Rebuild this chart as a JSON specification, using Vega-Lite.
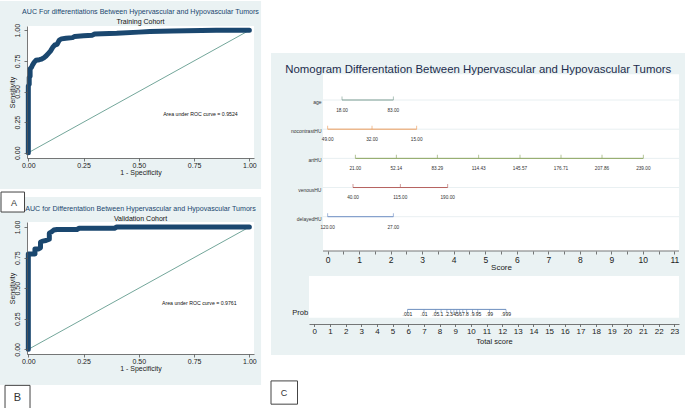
{
  "$schema": "https://vega.github.io/schema/vega-lite/v6.json",
  "background": "white",
  "padding": 0,
  "autosize": {"type": "pad"},
  "spacing": 8,
  "config": {"font": "Liberation Sans", "view": {"stroke": null}, "axis": {"labelOverlap": false, "labelFlush": false, "labelBound": false}},
  "datasets": {
    "train": [{"fpr":0,"tpr":0},{"fpr":0,"tpr":0.3},{"fpr":0,"tpr":0.545},{"fpr":0.004,"tpr":0.56},{"fpr":0.004,"tpr":0.615},{"fpr":0.008,"tpr":0.625},{"fpr":0.008,"tpr":0.685},{"fpr":0.015,"tpr":0.7},{"fpr":0.02,"tpr":0.72},{"fpr":0.027,"tpr":0.74},{"fpr":0.035,"tpr":0.755},{"fpr":0.05,"tpr":0.76},{"fpr":0.06,"tpr":0.765},{"fpr":0.07,"tpr":0.775},{"fpr":0.08,"tpr":0.79},{"fpr":0.09,"tpr":0.81},{"fpr":0.1,"tpr":0.83},{"fpr":0.11,"tpr":0.86},{"fpr":0.12,"tpr":0.88},{"fpr":0.13,"tpr":0.885},{"fpr":0.14,"tpr":0.92},{"fpr":0.15,"tpr":0.93},{"fpr":0.17,"tpr":0.935},{"fpr":0.2,"tpr":0.94},{"fpr":0.21,"tpr":0.95},{"fpr":0.25,"tpr":0.955},{"fpr":0.29,"tpr":0.96},{"fpr":0.3,"tpr":0.97},{"fpr":0.4,"tpr":0.975},{"fpr":0.5,"tpr":0.985},{"fpr":0.55,"tpr":0.99},{"fpr":0.65,"tpr":0.995},{"fpr":0.85,"tpr":1},{"fpr":1,"tpr":1}],
    "valid": [{"fpr":0,"tpr":0},{"fpr":0,"tpr":0.78},{"fpr":0.03,"tpr":0.78},{"fpr":0.03,"tpr":0.82},{"fpr":0.045,"tpr":0.82},{"fpr":0.055,"tpr":0.83},{"fpr":0.055,"tpr":0.875},{"fpr":0.065,"tpr":0.885},{"fpr":0.08,"tpr":0.89},{"fpr":0.095,"tpr":0.9},{"fpr":0.095,"tpr":0.95},{"fpr":0.105,"tpr":0.96},{"fpr":0.115,"tpr":0.975},{"fpr":0.13,"tpr":0.98},{"fpr":0.22,"tpr":0.98},{"fpr":0.23,"tpr":0.99},{"fpr":0.39,"tpr":0.99},{"fpr":0.4,"tpr":1},{"fpr":1,"tpr":1}],
    "diag": [{"fpr":0,"tpr":0},{"fpr":1,"tpr":1}],
    "nom": [
      {"variable":"age","score":0.455,"value":"18.00"},
      {"variable":"age","score":2.084,"value":"83.00"},
      {"variable":"nocontrastHU","score":0,"value":"49.00"},
      {"variable":"nocontrastHU","score":1.407,"value":"32.00"},
      {"variable":"nocontrastHU","score":2.824,"value":"15.00"},
      {"variable":"artHU","score":0.878,"value":"21.00"},
      {"variable":"artHU","score":2.179,"value":"52.14"},
      {"variable":"artHU","score":3.48,"value":"83.29"},
      {"variable":"artHU","score":4.791,"value":"114.43"},
      {"variable":"artHU","score":6.103,"value":"145.57"},
      {"variable":"artHU","score":7.404,"value":"176.71"},
      {"variable":"artHU","score":8.705,"value":"207.86"},
      {"variable":"artHU","score":10.016,"value":"239.00"},
      {"variable":"venousHU","score":0.804,"value":"40.00"},
      {"variable":"venousHU","score":2.306,"value":"115.00"},
      {"variable":"venousHU","score":3.808,"value":"190.00"},
      {"variable":"delayedHU","score":0,"value":"120.00"},
      {"variable":"delayedHU","score":2.084,"value":"27.00"}
    ],
    "prob": [
      {"p":".001","total":5.95},{"p":".01","total":7.004},{"p":".05","total":7.757},{"p":".1","total":8.098},
      {"p":".2","total":8.468},{"p":".3","total":8.714},{"p":".4","total":8.915},{"p":".5","total":9.1},
      {"p":".6","total":9.285},{"p":".7","total":9.486},{"p":".8","total":9.732},{"p":".9","total":10.102},
      {"p":".95","total":10.443},{"p":".99","total":11.196},{"p":".999","total":12.25}
    ]
  },
  "hconcat": [
    {
      "spacing": 1,
      "vconcat": [
        {
          "width": 227,
          "height": 132,
          "title": {"text": "AUC For differentiations Between Hypervascular and Hypovascular Tumors", "subtitle": "Training Cohort", "frame": "group", "anchor": "middle", "offset": -23.8, "fontSize": 7.1, "fontWeight": "normal", "color": "#1a476f", "subtitleFontSize": 7, "subtitleColor": "#111", "subtitlePadding": 2.3},
          "layer": [
            {"data": {"values": [{}]}, "mark": {"type": "rect", "fill": "#eaf2f3"},
             "encoding": {"x": {"datum": -0.128, "scale": {"domain": [-0.006, 1.021], "nice": false, "zero": false}}, "x2": {"datum": 1.053},
                          "y": {"datum": 1.2394, "scale": {"domain": [-0.043, 1.035], "nice": false, "zero": false}}, "y2": {"datum": -0.2966}}},
            {"data": {"values": [{}]}, "mark": {"type": "rect", "fill": "white"},
             "encoding": {"x": {"datum": -0.006, "scale": {"domain": [-0.006, 1.021], "nice": false, "zero": false}}, "x2": {"datum": 1.021},
                          "y": {"datum": 1.035, "scale": {"domain": [-0.043, 1.035], "nice": false, "zero": false}}, "y2": {"datum": -0.043}}},
            {"data": {"name": "diag"}, "mark": {"type": "line", "color": "#4f8f80", "strokeWidth": 0.8},
             "encoding": {"x": {"field": "fpr", "type": "quantitative", "scale": {"domain": [-0.006, 1.021], "nice": false, "zero": false}},
                          "y": {"field": "tpr", "type": "quantitative", "scale": {"domain": [-0.043, 1.035], "nice": false, "zero": false}}}},
            {"data": {"name": "train"}, "mark": {"type": "line", "color": "#1a476f", "strokeWidth": 5, "strokeJoin": "round", "strokeCap": "round"},
             "encoding": {
               "x": {"field": "fpr", "type": "quantitative", "scale": {"domain": [-0.006, 1.021], "nice": false, "zero": false},
                     "axis": {"values": [0, 0.25, 0.5, 0.75, 1], "tickCount": 100, "format": ".2f", "title": "1 - Specificity", "grid": false, "domainColor": "#555", "domainWidth": 0.8, "tickColor": "#555", "tickWidth": 0.8, "tickSize": 3, "labelFontSize": 7, "labelColor": "#222", "labelPadding": 0, "labelFlush": false, "labelOverlap": false, "titleFontSize": 7, "titleFontWeight": "normal", "titleColor": "#222", "titlePadding": 0, "zindex": 1}},
               "y": {"field": "tpr", "type": "quantitative", "scale": {"domain": [-0.043, 1.035], "nice": false, "zero": false},
                     "axis": {"values": [0, 0.25, 0.5, 0.75, 1], "tickCount": 100, "format": ".2f", "title": "Sensitivity", "grid": false, "domainColor": "#555", "domainWidth": 0.8, "tickColor": "#555", "tickWidth": 0.8, "tickSize": 3, "labelFontSize": 7, "labelColor": "#222", "labelAngle": -90, "labelAlign": "center", "labelBaseline": "bottom", "labelPadding": 3.5, "labelFlush": false, "labelOverlap": false, "titleFontSize": 7, "titleFontWeight": "normal", "titleColor": "#222", "titlePadding": -2, "zindex": 1}},
               "order": {"value": null}
             }},
            {"data": {"values": [{"label": "Area under ROC curve = 0.9524"}]}, "mark": {"type": "text", "align": "left", "baseline": "middle", "fontSize": 5.2, "fill": "#111"},
             "encoding": {"x": {"datum": 0.61, "scale": {"domain": [-0.006, 1.021], "nice": false, "zero": false}}, "y": {"datum": 0.316, "scale": {"domain": [-0.043, 1.035], "nice": false, "zero": false}}, "text": {"field": "label"}}}
          ]
        },
        {
          "width": 227,
          "height": 132,
          "title": {"text": "AUC for Differentation Between Hypervascular and Hypovascular Tumors", "subtitle": "Validation Cohort", "frame": "group", "anchor": "middle", "offset": -30.1, "fontSize": 7.1, "fontWeight": "normal", "color": "#1a476f", "subtitleFontSize": 7, "subtitleColor": "#111", "subtitlePadding": 2.3},
          "layer": [
            {"data": {"values": [{}]}, "mark": {"type": "rect", "fill": "#eaf2f3"},
             "encoding": {"x": {"datum": -0.128, "scale": {"domain": [-0.006, 1.021], "nice": false, "zero": false}}, "x2": {"datum": 1.053},
                          "y": {"datum": 1.2453, "scale": {"domain": [-0.038, 1.041], "nice": false, "zero": false}}, "y2": {"datum": -0.2919}}},
            {"data": {"values": [{}]}, "mark": {"type": "rect", "fill": "white"},
             "encoding": {"x": {"datum": -0.006, "scale": {"domain": [-0.006, 1.021], "nice": false, "zero": false}}, "x2": {"datum": 1.021},
                          "y": {"datum": 1.041, "scale": {"domain": [-0.038, 1.041], "nice": false, "zero": false}}, "y2": {"datum": -0.038}}},
            {"data": {"values": [{}]}, "mark": {"type": "rect", "fill": "white", "stroke": "#444", "strokeWidth": 1},
             "encoding": {"x": {"datum": -0.1235, "scale": {"domain": [-0.006, 1.021], "nice": false, "zero": false}}, "x2": {"datum": -0.0172},
                          "y": {"datum": 1.286, "scale": {"domain": [-0.038, 1.041], "nice": false, "zero": false}}, "y2": {"datum": 1.1226}}},
            {"data": {"values": [{}]}, "mark": {"type": "text", "fontSize": 9, "fill": "#333", "baseline": "middle"},
             "encoding": {"x": {"datum": -0.0647, "scale": {"domain": [-0.006, 1.021], "nice": false, "zero": false}},
                          "y": {"datum": 1.2, "scale": {"domain": [-0.038, 1.041], "nice": false, "zero": false}}, "text": {"value": "A"}}},
            {"data": {"values": [{}]}, "mark": {"type": "rect", "fill": "white", "stroke": "#444", "strokeWidth": 1},
             "encoding": {"x": {"datum": -0.1054, "scale": {"domain": [-0.006, 1.021], "nice": false, "zero": false}}, "x2": {"datum": 0.0077},
                          "y": {"datum": -0.2944, "scale": {"domain": [-0.038, 1.041], "nice": false, "zero": false}}, "y2": {"datum": -0.4922}}},
            {"data": {"values": [{}]}, "mark": {"type": "text", "fontSize": 11, "fill": "#333", "baseline": "middle"},
             "encoding": {"x": {"datum": -0.0489, "scale": {"domain": [-0.006, 1.021], "nice": false, "zero": false}},
                          "y": {"datum": -0.394, "scale": {"domain": [-0.038, 1.041], "nice": false, "zero": false}}, "text": {"value": "B"}}},
            {"data": {"name": "diag"}, "mark": {"type": "line", "color": "#4f8f80", "strokeWidth": 0.8},
             "encoding": {"x": {"field": "fpr", "type": "quantitative", "scale": {"domain": [-0.006, 1.021], "nice": false, "zero": false}},
                          "y": {"field": "tpr", "type": "quantitative", "scale": {"domain": [-0.038, 1.041], "nice": false, "zero": false}}}},
            {"data": {"name": "valid"}, "mark": {"type": "line", "color": "#1a476f", "strokeWidth": 5, "strokeJoin": "round", "strokeCap": "round"},
             "encoding": {
               "x": {"field": "fpr", "type": "quantitative", "scale": {"domain": [-0.006, 1.021], "nice": false, "zero": false},
                     "axis": {"values": [0, 0.25, 0.5, 0.75, 1], "tickCount": 100, "format": ".2f", "title": "1 - Specificity", "grid": false, "domainColor": "#555", "domainWidth": 0.8, "tickColor": "#555", "tickWidth": 0.8, "tickSize": 3, "labelFontSize": 7, "labelColor": "#222", "labelPadding": 0, "labelFlush": false, "labelOverlap": false, "titleFontSize": 7, "titleFontWeight": "normal", "titleColor": "#222", "titlePadding": 0, "zindex": 1}},
               "y": {"field": "tpr", "type": "quantitative", "scale": {"domain": [-0.038, 1.041], "nice": false, "zero": false},
                     "axis": {"values": [0, 0.25, 0.5, 0.75, 1], "tickCount": 100, "format": ".2f", "title": "Sensitivity", "grid": false, "domainColor": "#555", "domainWidth": 0.8, "tickColor": "#555", "tickWidth": 0.8, "tickSize": 3, "labelFontSize": 7, "labelColor": "#222", "labelAngle": -90, "labelAlign": "center", "labelBaseline": "bottom", "labelPadding": 3.5, "labelFlush": false, "labelOverlap": false, "titleFontSize": 7, "titleFontWeight": "normal", "titleColor": "#222", "titlePadding": -2, "zindex": 1}},
               "order": {"value": null}
             }},
            {"data": {"values": [{"label": "Area under ROC curve = 0.9761"}]}, "mark": {"type": "text", "align": "left", "baseline": "middle", "fontSize": 5.2, "fill": "#111"},
             "encoding": {"x": {"datum": 0.605, "scale": {"domain": [-0.006, 1.021], "nice": false, "zero": false}}, "y": {"datum": 0.379, "scale": {"domain": [-0.038, 1.041], "nice": false, "zero": false}}, "text": {"field": "label"}}}
          ]
        }
      ]
    },
    {
      "width": 370,
      "height": 298,
      "title": {"text": "Nomogram Differentation Between Hypervascular and Hypovascular Tumors", "frame": "bounds", "anchor": "middle", "offset": -49, "fontSize": 11.4, "fontWeight": "normal", "color": "#1c2c4c"},
      "layer": [
        {
          "layer": [
            {
              "data": {"values": [{}]},
              "layer": [
                {"mark": {"type": "rect", "fill": "#eaf2f3"},
                 "encoding": {"x": {"datum": -1.798, "scale": {"domain": [-0.5924, 11.148], "nice": false, "zero": false}}, "x2": {"datum": 11.37},
                              "y": {"datum": 0.9094, "scale": {"domain": [0, 1], "nice": false, "zero": false}, "axis": null}, "y2": {"datum": -0.104}}},
                {"mark": {"type": "rect", "fill": "white"},
                 "encoding": {"x": {"datum": -0.148, "scale": {"domain": [-0.5924, 11.148], "nice": false, "zero": false}}, "x2": {"datum": 11.148},
                              "y": {"datum": 0.8379, "scale": {"domain": [0, 1], "nice": false, "zero": false}, "axis": null}, "y2": {"datum": 0.245}}},
                {"mark": {"type": "rect", "fill": "white"},
                 "encoding": {"x": {"datum": -0.5924, "scale": {"domain": [-0.5924, 11.148], "nice": false, "zero": false}}, "x2": {"datum": 11.148},
                              "y": {"datum": 0.161, "scale": {"domain": [0, 1], "nice": false, "zero": false}, "axis": null}, "y2": {"datum": 0.0211}}},
                {"mark": {"type": "rule", "stroke": "#555", "strokeWidth": 0.8},
                 "encoding": {"x": {"datum": -0.148, "scale": {"domain": [-0.5924, 11.148], "nice": false, "zero": false}}, "x2": {"datum": 11.148},
                              "y": {"datum": 0.245, "scale": {"domain": [0, 1], "nice": false, "zero": false}, "axis": null}}},
                {"mark": {"type": "rect", "fill": "white", "stroke": "#444", "strokeWidth": 1},
                 "encoding": {"x": {"datum": -1.798, "scale": {"domain": [-0.5924, 11.148], "nice": false, "zero": false}}, "x2": {"datum": -0.957},
                              "y": {"datum": -0.191, "scale": {"domain": [0, 1], "nice": false, "zero": false}, "axis": null}, "y2": {"datum": -0.269}}},
                {"mark": {"type": "text", "fontSize": 9, "fill": "#333", "baseline": "middle"},
                 "encoding": {"x": {"datum": -1.386, "scale": {"domain": [-0.5924, 11.148], "nice": false, "zero": false}},
                              "y": {"datum": -0.23, "scale": {"domain": [0, 1], "nice": false, "zero": false}, "axis": null}, "text": {"value": "C"}}}
              ]
            },
            {
              "data": {"name": "nom"},
              "layer": [
                {"transform": [{"aggregate": [{"op": "count", "as": "n"}], "groupby": ["variable"]}],
                 "mark": {"type": "rule", "stroke": "#e2ebee", "strokeWidth": 0.8},
                 "encoding": {"x": {"datum": -0.148, "scale": {"domain": [-0.5924, 11.148], "nice": false, "zero": false}}, "x2": {"datum": 11.148},
                              "y": {"field": "variable", "type": "nominal", "scale": {"type": "point", "domain": ["age", "nocontrastHU", "artHU", "venousHU", "delayedHU"], "range": [74, 190.7], "padding": 0}}}},
                {"mark": {"type": "rule", "strokeWidth": 1},
                 "encoding": {
                   "x": {"aggregate": "min", "field": "score", "type": "quantitative", "scale": {"domain": [-0.5924, 11.148], "nice": false, "zero": false},
                         "axis": {"orient": "bottom", "offset": -73, "values": [0,0.5,1,1.5,2,2.5,3,3.5,4,4.5,5,5.5,6,6.5,7,7.5,8,8.5,9,9.5,10,10.5,11], "tickCount": 100, "labelExpr": "datum.value % 1 === 0 ? '' + datum.value : ''", "domain": false, "grid": false, "tickColor": "#555", "tickWidth": 0.8, "tickSize": 3, "labelFontSize": 8.5, "labelColor": "#222", "labelPadding": 1, "labelFlush": false, "labelOverlap": false, "title": "Score", "titleFontSize": 8, "titleFontWeight": "normal", "titleColor": "#222", "titlePadding": 0, "titleX": 192, "zindex": 1}},
                   "x2": {"aggregate": "max", "field": "score"},
                   "y": {"field": "variable", "type": "nominal", "scale": {"type": "point", "domain": ["age", "nocontrastHU", "artHU", "venousHU", "delayedHU"], "range": [74, 190.7], "padding": 0},
                         "axis": {"orient": "left", "title": null, "domain": false, "ticks": false, "tickSize": 0, "grid": false, "labelFontSize": 5, "labelColor": "#333", "labelPadding": -12, "labelOffset": 1.5, "labelOverlap": false, "labelBound": false, "zindex": 1}},
                   "color": {"field": "variable", "type": "nominal", "scale": {"domain": ["age", "nocontrastHU", "artHU", "venousHU", "delayedHU"], "range": ["#7f9f94", "#eb9b5b", "#89a35d", "#b5625f", "#6f8fc4"]}, "legend": null}
                 }},
                {"mark": {"type": "tick", "orient": "vertical", "size": 3.5, "thickness": 0.9, "yOffset": -1.75},
                 "encoding": {
                   "x": {"field": "score", "type": "quantitative", "scale": {"domain": [-0.5924, 11.148], "nice": false, "zero": false}},
                   "y": {"field": "variable", "type": "nominal", "scale": {"type": "point", "domain": ["age", "nocontrastHU", "artHU", "venousHU", "delayedHU"], "range": [74, 190.7], "padding": 0}},
                   "color": {"field": "variable", "type": "nominal", "scale": {"domain": ["age", "nocontrastHU", "artHU", "venousHU", "delayedHU"], "range": ["#7f9f94", "#eb9b5b", "#89a35d", "#b5625f", "#6f8fc4"]}, "legend": null}
                 }},
                {"mark": {"type": "text", "dy": 10.8, "fontSize": 4.7, "fill": "#333", "baseline": "middle", "align": "center"},
                 "encoding": {
                   "x": {"field": "score", "type": "quantitative", "scale": {"domain": [-0.5924, 11.148], "nice": false, "zero": false}},
                   "y": {"field": "variable", "type": "nominal", "scale": {"type": "point", "domain": ["age", "nocontrastHU", "artHU", "venousHU", "delayedHU"], "range": [74, 190.7], "padding": 0}},
                   "text": {"field": "value"}
                 }}
              ]
            }
          ],
          "resolve": {"scale": {"y": "independent"}}
        },
        {
          "data": {"name": "prob"},
          "layer": [
            {"mark": {"type": "rule", "stroke": "#6d8ebf", "strokeWidth": 1},
             "encoding": {
               "x": {"aggregate": "min", "field": "total", "type": "quantitative", "scale": {"domain": [-0.3406, 23.298], "nice": false, "zero": false},
                     "axis": {"orient": "bottom", "values": [0,1,2,3,4,5,6,7,8,9,10,11,12,13,14,15,16,17,18,19,20,21,22,23], "tickCount": 100, "format": "d", "grid": false, "domainColor": "#555", "domainWidth": 0.8, "tickColor": "#555", "tickWidth": 0.8, "tickSize": 2.5, "labelFontSize": 8, "labelColor": "#222", "labelPadding": 1, "labelFlush": false, "labelOverlap": false, "title": "Total score", "titleFontSize": 7.5, "titleFontWeight": "normal", "titleColor": "#222", "titlePadding": 2, "zindex": 1}},
               "x2": {"aggregate": "max", "field": "total"},
               "y": {"datum": "Prob", "type": "nominal", "scale": {"type": "point", "domain": ["Prob"], "padding": 0.5, "align": 0.951},
                     "axis": {"orient": "left", "title": null, "domain": false, "ticks": false, "tickSize": 0, "grid": false, "labelFontSize": 7.6, "labelColor": "#222", "labelPadding": 1.3, "labelOffset": 2.7, "zindex": 1}}
             }},
            {"mark": {"type": "tick", "orient": "vertical", "size": 3.5, "thickness": 0.9, "yOffset": 1.75, "color": "#6d8ebf"},
             "encoding": {
               "x": {"field": "total", "type": "quantitative", "scale": {"domain": [-0.3406, 23.298], "nice": false, "zero": false}},
               "y": {"datum": "Prob", "type": "nominal", "scale": {"type": "point", "domain": ["Prob"], "padding": 0.5, "align": 0.951}}
             }},
            {"mark": {"type": "text", "dy": 5, "fontSize": 5, "fill": "#222", "baseline": "middle", "align": "center"},
             "encoding": {
               "x": {"field": "total", "type": "quantitative", "scale": {"domain": [-0.3406, 23.298], "nice": false, "zero": false}},
               "y": {"datum": "Prob", "type": "nominal", "scale": {"type": "point", "domain": ["Prob"], "padding": 0.5, "align": 0.951}},
               "text": {"field": "p"}
             }}
          ]
        }
      ],
      "resolve": {"scale": {"x": "independent", "y": "independent"}}
    }
  ]
}
